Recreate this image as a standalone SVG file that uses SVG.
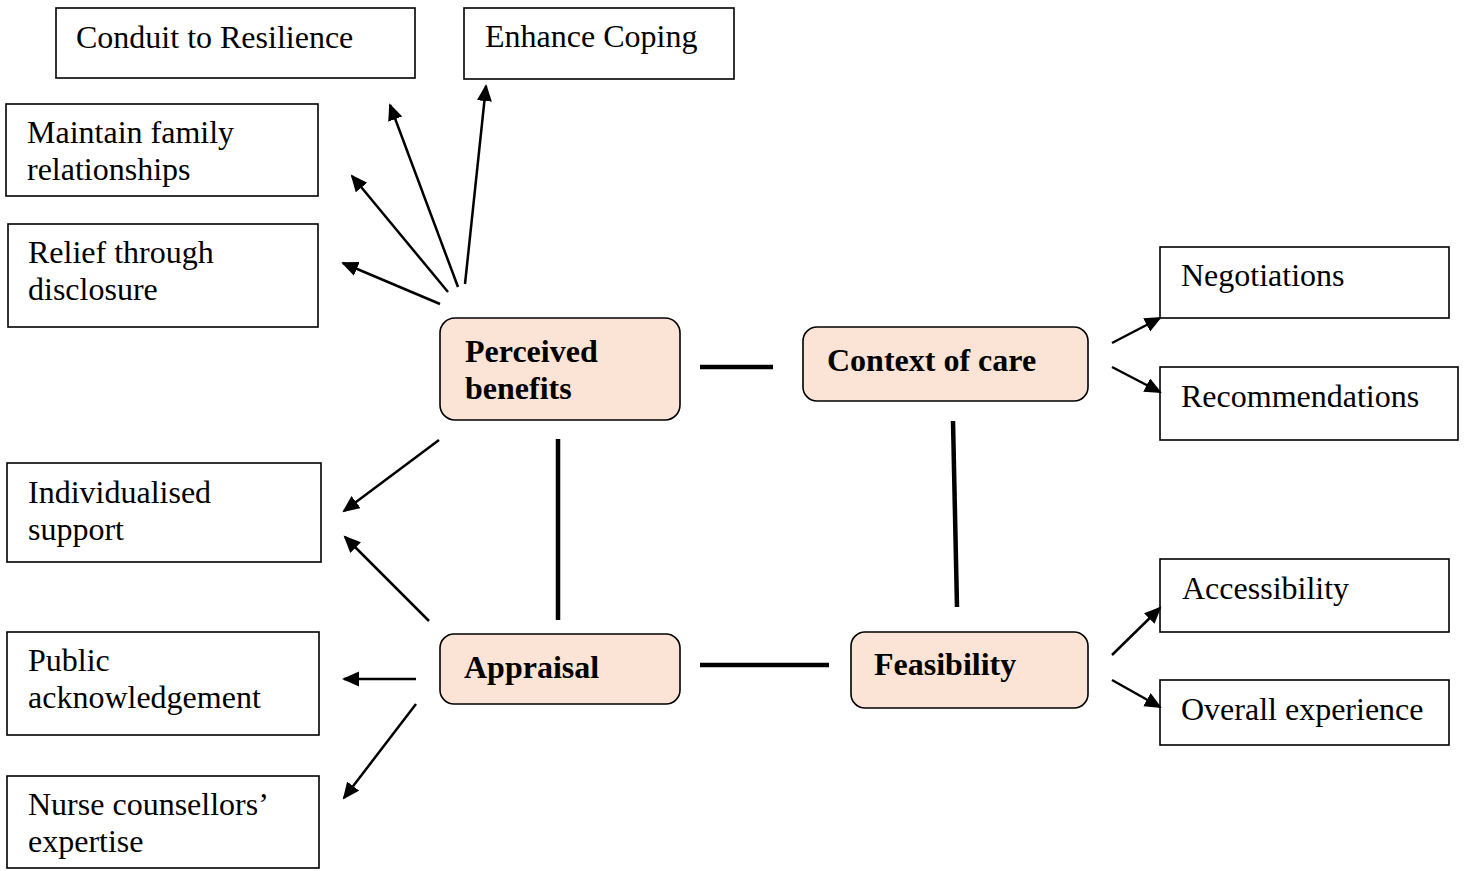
<svg xmlns="http://www.w3.org/2000/svg" width="1465" height="871" viewBox="0 0 1465 871">
<style>
.box{fill:#ffffff;stroke:#000;stroke-width:1.6}
.core{fill:#FBE4D5;stroke:#000;stroke-width:1.6}
.t{font-family:"Liberation Serif","Times New Roman",serif;font-size:32px;fill:#000}
.b{font-family:"Liberation Serif","Times New Roman",serif;font-size:32px;font-weight:bold;fill:#000}
.arr{stroke:#000;stroke-width:2.5;fill:none;marker-end:url(#ah)}
.link{stroke:#000;stroke-width:4.5;fill:none}
</style>
<defs>
<marker id="ah" markerUnits="userSpaceOnUse" markerWidth="18" markerHeight="16" refX="15" refY="7.5" orient="auto">
<path d="M0,0 L17,7.5 L0,15 z" fill="#000"/>
</marker>
</defs>
<rect width="1465" height="871" fill="#ffffff"/>

<g id="conduit"><rect class="box" x="56" y="8" width="359" height="70"/><text class="t" x="76" y="48">Conduit to Resilience</text></g>
<g id="enhance"><rect class="box" x="464" y="8" width="270" height="71"/><text class="t" x="485" y="47">Enhance Coping</text></g>
<g id="maintain"><rect class="box" x="6" y="104" width="312" height="92"/><text class="t" x="27" y="143">Maintain family</text><text class="t" x="27" y="180">relationships</text></g>
<g id="relief"><rect class="box" x="8" y="224" width="310" height="103"/><text class="t" x="28" y="263">Relief through</text><text class="t" x="28" y="300">disclosure</text></g>
<g id="individualised"><rect class="box" x="7" y="463" width="314" height="99"/><text class="t" x="28" y="503">Individualised</text><text class="t" x="28" y="540">support</text></g>
<g id="public"><rect class="box" x="7" y="632" width="312" height="103"/><text class="t" x="28" y="671">Public</text><text class="t" x="28" y="708">acknowledgement</text></g>
<g id="nurse"><rect class="box" x="7" y="776" width="312" height="92"/><text class="t" x="28" y="815">Nurse counsellors’</text><text class="t" x="28" y="852">expertise</text></g>
<g id="negotiations"><rect class="box" x="1160" y="247" width="289" height="71"/><text class="t" x="1181" y="286">Negotiations</text></g>
<g id="recommendations"><rect class="box" x="1160" y="367" width="298" height="73"/><text class="t" x="1181" y="407">Recommendations</text></g>
<g id="accessibility"><rect class="box" x="1160" y="559" width="289" height="73"/><text class="t" x="1182" y="599">Accessibility</text></g>
<g id="overall"><rect class="box" x="1160" y="680" width="289" height="65"/><text class="t" x="1181" y="720">Overall experience</text></g>

<g id="perceived"><rect class="core" x="440" y="318" width="240" height="102" rx="15"/><text class="b" x="465" y="362">Perceived</text><text class="b" x="465" y="399">benefits</text></g>
<g id="context"><rect class="core" x="803" y="327" width="285" height="74" rx="14"/><text class="b" x="827" y="371">Context of care</text></g>
<g id="appraisal"><rect class="core" x="440" y="634" width="240" height="70" rx="14"/><text class="b" x="464" y="678">Appraisal</text></g>
<g id="feasibility"><rect class="core" x="851" y="632" width="237" height="76" rx="14"/><text class="b" x="874" y="675">Feasibility</text></g>

<g id="connectors">
<line class="link" x1="700" y1="367" x2="773" y2="367"/>
<line class="link" x1="558" y1="439" x2="558" y2="620"/>
<line class="link" x1="953" y1="421" x2="957" y2="607"/>
<line class="link" x1="700" y1="665" x2="829" y2="665"/>

<line class="arr" x1="440" y1="304" x2="343" y2="263"/>
<line class="arr" x1="448" y1="292" x2="352" y2="176"/>
<line class="arr" x1="458" y1="287" x2="390" y2="105"/>
<line class="arr" x1="465" y1="284" x2="486" y2="86"/>

<line class="arr" x1="439" y1="440" x2="344" y2="511"/>
<line class="arr" x1="429" y1="621" x2="345" y2="537"/>
<line class="arr" x1="416" y1="679" x2="344" y2="679"/>
<line class="arr" x1="416" y1="704" x2="344" y2="798"/>

<line class="arr" x1="1112" y1="343" x2="1160" y2="318"/>
<line class="arr" x1="1112" y1="367" x2="1160" y2="392"/>
<line class="arr" x1="1112" y1="655" x2="1160" y2="608"/>
<line class="arr" x1="1112" y1="680" x2="1160" y2="707"/>
</g>
</svg>
